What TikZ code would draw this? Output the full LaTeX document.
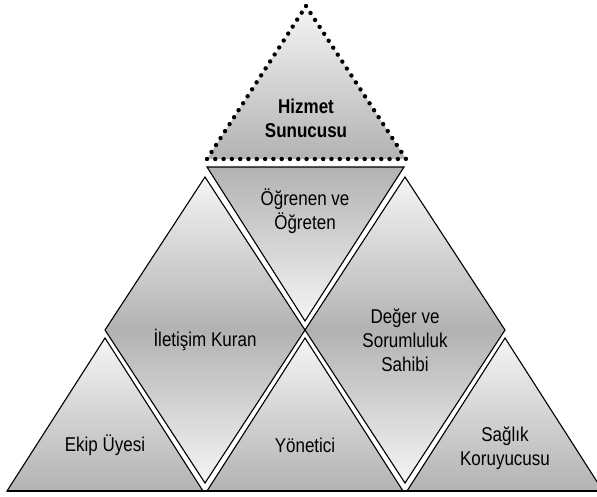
\documentclass[tikz,border=0pt]{standalone}
\usepackage{fontspec}
\newfontfamily\lblfont{Liberation Sans}[FakeStretch=0.85]
\usepackage{tikz}
\definecolor{shLight}{gray}{0.96}
\definecolor{shDark}{gray}{0.70}

\begin{document}
\begin{tikzpicture}[x=1pt, y=-1pt,
    up/.style={top color=shLight, bottom color=shDark},
    down/.style={top color=shDark, bottom color=shLight},
    edge/.style={draw=black, line width=1.1pt, line join=miter},
    dots/.style={draw=black, line width=4.4pt, line cap=round, dash pattern=on 0pt off 8.3pt},
    lbl/.style={align=center, font=\lblfont\fontsize{20}{24}\selectfont, inner sep=0pt}]

    \useasboundingbox (0,0) rectangle (597,496);

    % top
    \shade[up] (306,6) -- (406,159) -- (207,159) -- cycle;
    \draw[dots] (306,6) -- (406,159) -- (207,159) -- cycle;
    \shade[down] (207,167) -- (404,167) -- (305,321) -- cycle;
    \draw[edge] (207,167) -- (404,167) -- (305,321) -- cycle;

    % diamonds
    \shade[up] (205,177) -- (305,330) -- (105,330) -- cycle;
    \shade[down] (105,330) -- (305,330) -- (205,483) -- cycle;
    \draw[edge] (205,177) -- (305,330) -- (205,483) -- (105,330) -- cycle;
    \shade[up] (405,177) -- (505,330) -- (305,330) -- cycle;
    \shade[down] (305,330) -- (505,330) -- (405,483) -- cycle;
    \draw[edge] (405,177) -- (505,330) -- (405,483) -- (305,330) -- cycle;

    % bottom row
    \shade[up] (105,338) -- (203,491) -- (7,491) -- cycle;
    \draw[edge] (105,338) -- (203,491) -- (7,491) -- cycle;
    \shade[up] (305,338) -- (403,491) -- (207,491) -- cycle;
    \draw[edge] (305,338) -- (403,491) -- (207,491) -- cycle;
    \shade[up] (505,338) -- (603,491) -- (407,491) -- cycle;
    \draw[edge] (505,338) -- (603,491) -- (407,491) -- cycle;
    \draw[edge] (7,491) -- (597,491);

    \node(hizmet)[lbl, font=\lblfont\bfseries\fontsize{20}{24}\selectfont] at (306,118) {Hizmet\\Sunucusu};
    \node(ogrenen)[lbl] at (305,211) {Öğrenen ve\\Öğreten};
    \node(iletisim)[lbl] at (205,340) {İletişim Kuran};
    \node(deger)[lbl] at (405,340) {Değer ve\\Sorumluluk\\Sahibi};
    \node(ekip)[lbl] at (105,445) {Ekip Üyesi};
    \node(yonetici)[lbl] at (305,445) {Yönetici};
    \node(saglik)[lbl] at (505,448) {Sağlık\\Koruyucusu};

\end{tikzpicture}
\end{document}
